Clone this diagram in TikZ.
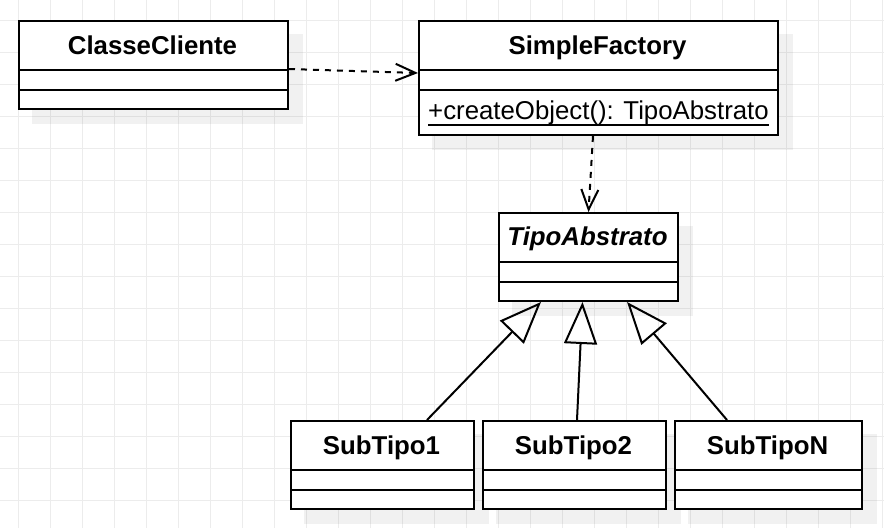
\documentclass[tikz,border=0pt]{standalone}
\usepackage{fontspec}
\setmainfont{Liberation Sans}
\usetikzlibrary{arrows.meta}
\pgfdeclarelayer{bg}
\pgfsetlayers{bg,main}
\definecolor{gridgray}{RGB}{236,236,236}
\begin{document}
\begin{tikzpicture}[x=1pt,y=-1pt,
  cls/.style={draw=black, line width=2pt, fill=white, rectangle, inner sep=0pt, anchor=north west},
  div/.style={line width=2pt},
  shadowbox/.style={fill=black, fill opacity=0.055},
  gridline/.style={draw=gridgray, line width=1pt},
  title/.style={font=\fontsize{25.8}{30}\selectfont\bfseries, anchor=base, inner sep=0pt},
  method/.style={font=\fontsize{25.8}{30}\selectfont, anchor=base west, inner sep=0pt},
  dep/.style={line width=2pt, dash pattern=on 6pt off 6pt, -{Straight Barb[length=20pt,width=17pt]}},
  gen/.style={line width=2pt, -{Triangle[open, length=42pt, width=33pt]}},
]
\useasboundingbox (0,0) rectangle (884,528);

% class boxes
\node[cls, minimum width=269pt, minimum height=88pt] (cc) at (18,20) {};
\node[cls, minimum width=359pt, minimum height=114pt] (sf) at (418,20) {};
\node[cls, minimum width=179pt, minimum height=88pt] (ta) at (498,212) {};
\node[cls, minimum width=183pt, minimum height=88pt] (s1) at (290,420) {};
\node[cls, minimum width=183pt, minimum height=88pt] (s2) at (482,420) {};
\node[cls, minimum width=187pt, minimum height=88pt] (sn) at (674,420) {};

% compartments
\draw[div] (18,70) -- (287,70) (18,90) -- (287,90);
\draw[div] (418,70) -- (777,70) (418,90) -- (777,90);
\draw[div] (498,262) -- (677,262) (498,282) -- (677,282);
\draw[div] (290,470) -- (473,470) (290,490) -- (473,490);
\draw[div] (482,470) -- (665,470) (482,490) -- (665,490);
\draw[div] (674,470) -- (861,470) (674,490) -- (861,490);

% texts
\node[title] (cct) at (152.5,54) {ClasseCliente};
\node[title] (sft) at (597.5,54) {SimpleFactory};
\node[title, font=\fontsize{25.8}{30}\selectfont\bfseries\itshape] (tat) at (587.5,245) {TipoAbstrato};
\node[title] (s1t) at (381.5,454) {SubTipo1};
\node[title] (s2t) at (573.5,454) {SubTipo2};
\node[title] (snt) at (767.5,454) {SubTipoN};
\node[method] (cobj) at (428,119) {+createObject(): TipoAbstrato};
\draw[line width=1.5pt] ([yshift=-6pt]cobj.base west) -- ([yshift=-6pt]cobj.base east);

% connectors
\draw[dep] ([yshift=-4pt]cc.east) -- ([yshift=5pt]sf.west);
\draw[dep] ([xshift=-5.5pt]sf.south) -- (ta.north);
\draw[gen] ([xshift=44.5pt]s1.north) -- ([xshift=-47.5pt]ta.south);
\draw[gen] ([xshift=2.5pt]s2.north) -- ([xshift=-6pt]ta.south);
\draw[gen] ([xshift=-41.5pt]sn.north) -- ([xshift=38.5pt]ta.south);

% background: grid and shadows
\begin{pgfonlayer}{bg}
  \fill[white] (0,0) rectangle (884,528);
  \foreach \i in {0,...,27} { \draw[gridline] (18.3+32*\i,0) -- (18.3+32*\i,528); }
  \foreach \j in {0,...,15} { \draw[gridline] (0,20.3+32*\j) -- (884,20.3+32*\j); }
  \foreach \n in {cc,sf,ta,s1,s2,sn} {
    \fill[shadowbox] ([shift={(14pt,-14pt)}]\n.north west) rectangle ([shift={(14pt,-14pt)}]\n.south east);
  }
\end{pgfonlayer}
\end{tikzpicture}
\end{document}
